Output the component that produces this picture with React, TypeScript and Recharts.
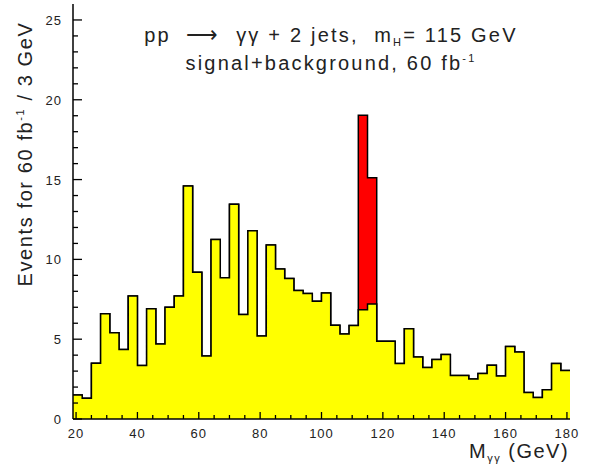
import React from 'react';
import { ComposedChart, Area, XAxis, YAxis } from 'recharts';

// bin edges in GeV (3 GeV bins)
const binEdges = [
  19, 22, 25, 28, 31, 34, 37, 40, 43, 46, 49, 52, 55, 58, 61, 64, 67, 70, 73,
  76, 79, 82, 85, 88, 91, 94, 97, 100, 103, 106, 109, 112, 115, 118, 121, 124,
  127, 130, 133, 136, 139, 142, 145, 148, 151, 154, 157, 160, 163, 166, 169,
  172, 175, 178, 181,
];

// background events per bin
const background = [
  1.5, 1.3, 3.5, 6.6, 5.4, 4.35, 7.7, 3.35, 6.9, 4.7, 7.0, 7.7, 14.6, 9.2,
  3.95, 11.25, 8.85, 13.45, 6.55, 11.8, 5.2, 10.9, 9.4, 8.8, 8.05, 7.87, 7.37,
  7.9, 5.87, 5.33, 5.86, 6.84, 7.21, 4.87, 4.87, 3.47, 5.65, 3.89, 3.22, 3.73,
  4.04, 2.72, 2.72, 2.51, 2.85, 3.37, 2.7, 4.54, 4.2, 1.66, 1.34, 1.84, 3.47,
  3.04,
];

// Higgs signal on top of background
const signal = [
  0, 0, 0, 0, 0, 0, 0, 0, 0, 0, 0, 0, 0, 0, 0, 0, 0, 0, 0, 0, 0, 0, 0, 0, 0, 0,
  0, 0, 0, 0, 0, 12.19, 7.91, 0, 0, 0, 0, 0, 0, 0, 0, 0, 0, 0, 0, 0, 0, 0, 0, 0,
  0, 0, 0, 0,
];

const xTicks = [
  20, 25, 30, 35, 40, 45, 50, 55, 60, 65, 70, 75, 80, 85, 90, 95, 100, 105, 110,
  115, 120, 125, 130, 135, 140, 145, 150, 155, 160, 165, 170, 175, 180,
];
const yTicks = [
  0, 1, 2, 3, 4, 5, 6, 7, 8, 9, 10, 11, 12, 13, 14, 15, 16, 17, 18, 19, 20, 21,
  22, 23, 24, 25,
];

const data = binEdges.map((x, i) => {
  const k = Math.min(i, background.length - 1);
  return { x, bg: background[k], total: background[k] + signal[k] };
});

const FONT = '"Liberation Sans", Arial, sans-serif';

// ticks point into the frame, like the PAW original
function XTick(props: any) {
  const { x, y, payload } = props;
  const v = payload.value;
  const major = v % 20 === 0;
  return (
    <g>
      <line x1={x} x2={x} y1={y} y2={y - (major ? 7 : 4)} stroke="#000" strokeWidth={1.3} />
      {major && (
        <text x={x} y={y + 19} textAnchor="middle" fontSize={13} letterSpacing={1} fill="#222" fontFamily={FONT}>
          {v}
        </text>
      )}
    </g>
  );
}

function YTick(props: any) {
  const { x, y, payload } = props;
  const v = payload.value;
  const major = v % 5 === 0;
  return (
    <g>
      <line x1={x} x2={x + (major ? 9 : 5)} y1={y} y2={y} stroke="#000" strokeWidth={1.3} />
      {major && (
        <text x={x - 11} y={y + 5} textAnchor="end" fontSize={13} letterSpacing={1} fill="#222" fontFamily={FONT}>
          {v}
        </text>
      )}
    </g>
  );
}

const sup = { fontSize: 11, position: 'relative' as const, top: -8, lineHeight: 0 };
const sub = { fontSize: 11, position: 'relative' as const, top: 4, lineHeight: 0 };

export default function App() {
  return (
    <div style={{ position: 'absolute', left: 0, top: 0, width: 592, height: 464, background: '#fff', fontFamily: FONT }}>
      <ComposedChart
        width={592}
        height={464}
        data={data}
        margin={{ top: 4, right: 22, bottom: 0, left: 0 }}
      >
        <Area
          type="stepAfter"
          dataKey="total"
          stroke="#000"
          strokeWidth={1.5}
          fill="#ff0000"
          fillOpacity={1}
          isAnimationActive={false}
          dot={false}
          activeDot={false}
        />
        <Area
          type="stepAfter"
          dataKey="bg"
          stroke="#000"
          strokeWidth={1.5}
          fill="#ffff00"
          fillOpacity={1}
          isAnimationActive={false}
          dot={false}
          activeDot={false}
        />
        <XAxis
          xAxisId="top"
          orientation="top"
          dataKey="x"
          type="number"
          domain={[19, 181]}
          height={0}
          tick={false}
          tickLine={false}
          axisLine={{ stroke: '#000', strokeWidth: 1.5 }}
        />
        <YAxis
          yAxisId="right"
          orientation="right"
          type="number"
          domain={[0, 26]}
          width={0}
          tick={false}
          tickLine={false}
          axisLine={{ stroke: '#000', strokeWidth: 1.5 }}
        />
        <XAxis
          dataKey="x"
          type="number"
          domain={[19, 181]}
          ticks={xTicks}
          interval={0}
          height={45}
          tickSize={0}
          tickMargin={0}
          tickLine={false}
          axisLine={{ stroke: '#000', strokeWidth: 1.5 }}
          tick={(p: any) => <XTick {...p} />}
        />
        <YAxis
          type="number"
          domain={[0, 26]}
          ticks={yTicks}
          interval={0}
          width={73}
          tickSize={0}
          tickMargin={0}
          tickLine={false}
          axisLine={{ stroke: '#000', strokeWidth: 1.5 }}
          tick={(p: any) => <YTick {...p} />}
        />
      </ComposedChart>

      <div style={{ position: 'absolute', left: 0, width: 662, top: 21, textAlign: 'center', fontSize: 20, lineHeight: '28px', color: '#222', letterSpacing: 2.2, whiteSpace: 'nowrap' }}>
        <div>
          pp&nbsp;&nbsp;<span style={{ fontSize: 22 }}>⟶</span>&nbsp;&nbsp;γγ + 2 jets,&nbsp;&nbsp;m<span style={sub}>H</span>= 115 GeV
        </div>
        <div>
          signal+background, 60 fb<span style={sup}>-1</span>
        </div>
      </div>

      <div
        style={{
          position: 'absolute',
          left: 25,
          top: 154,
          transform: 'translate(-50%, -50%) rotate(-90deg)',
          whiteSpace: 'nowrap',
          fontSize: 20,
          lineHeight: '24px',
          color: '#222',
          letterSpacing: 1.6,
        }}
      >
        Events for 60 fb<span style={sup}>-1</span> / 3 GeV
      </div>

      <div style={{ position: 'absolute', left: 469, top: 439, fontSize: 20, lineHeight: '24px', color: '#222', whiteSpace: 'nowrap', letterSpacing: 1.5 }}>
        M<span style={sub}>γγ</span> (GeV)
      </div>
    </div>
  );
}
